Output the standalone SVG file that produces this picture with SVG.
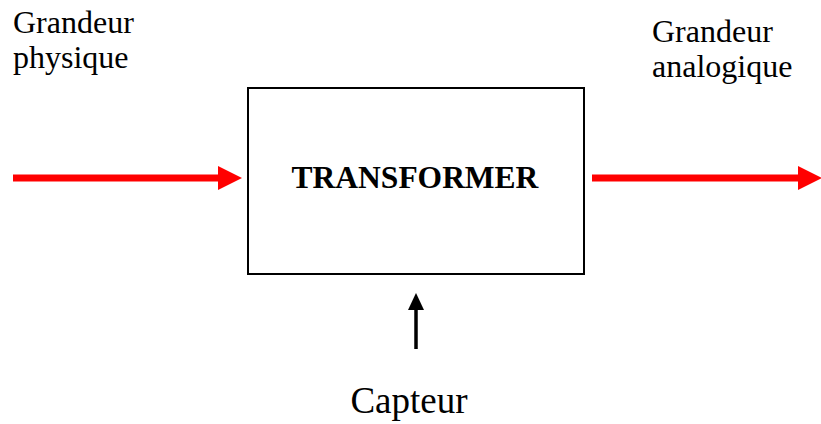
<svg xmlns="http://www.w3.org/2000/svg" width="821" height="424" viewBox="0 0 821 424">
<style>
text{font-family:"Liberation Serif","Times New Roman",serif;fill:#000}
.lbl{font-size:32px}
.red{stroke:#ff0000;stroke-width:7;fill:none}
</style>
<defs>
<marker id="rh" markerUnits="userSpaceOnUse" markerWidth="24" markerHeight="24" refX="0" refY="12" orient="auto"><path d="M0,0 L24,12 L0,24 Z" fill="#ff0000"/></marker>
</defs>
<rect width="821" height="424" fill="#fff"/>
<g id="labels">
<text class="lbl" x="13" y="33">Grandeur</text>
<text class="lbl" x="13" y="68">physique</text>
<text class="lbl" x="652" y="42">Grandeur</text>
<text class="lbl" x="652" y="77">analogique</text>
</g>
<g id="transformer">
<rect x="248" y="88" width="336" height="186" fill="#fff" stroke="#000" stroke-width="2"/>
<text x="415" y="188" font-size="31.5" font-weight="bold" text-anchor="middle">TRANSFORMER</text>
</g>
<g id="capteur">
<text x="409" y="413" font-size="37" text-anchor="middle">Capteur</text>
</g>
<g id="connectors">
<line class="red" x1="13" y1="178" x2="218" y2="178" marker-end="url(#rh)"/>
<line class="red" x1="592" y1="178" x2="798" y2="178" marker-end="url(#rh)"/>
<line x1="416" y1="349" x2="416" y2="309" stroke="#000" stroke-width="3.5"/>
<path d="M408,310 L416,293 L424,310 Z" fill="#000"/>
</g>
</svg>
